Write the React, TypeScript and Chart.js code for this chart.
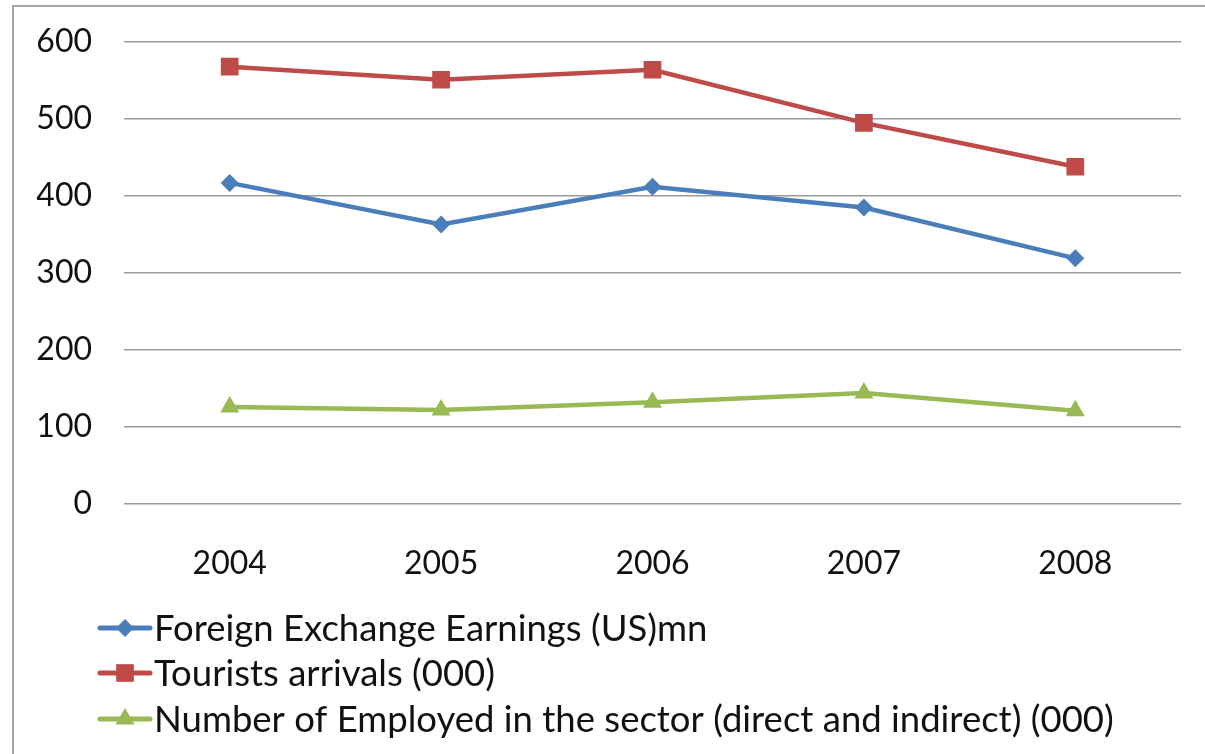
import React, { useEffect, useRef } from "react";
import { Chart, registerables } from "chart.js";

Chart.register(...registerables);

const years = ["2004", "2005", "2006", "2007", "2008"];
const foreignExchange = [417, 363, 412, 385, 319];
const touristArrivals = [568, 551, 564, 495, 438];
const employed = [126, 122, 132, 144, 121];
const yTicks = [0, 100, 200, 300, 400, 500, 600];

const FONT = "Lato, 'Open Sans', sans-serif";

const legendPlugin = {
  id: "stackedLegend",
  afterDraw(chart: any) {
    const ctx = chart.ctx;
    const rows = [628, 673, 719];
    ctx.save();
    chart.data.datasets.forEach((ds: any, i: number) => {
      const y = rows[i];
      ctx.strokeStyle = ds.borderColor;
      ctx.lineWidth = 5;
      ctx.lineCap = "round";
      ctx.beginPath();
      ctx.moveTo(100, y);
      ctx.lineTo(150, y);
      ctx.stroke();
      ctx.fillStyle = ds.borderColor;
      const r = ds.pointRadius;
      const cx = 125;
      ctx.beginPath();
      if (ds.pointStyle === "rectRot") {
        ctx.moveTo(cx, y - r);
        ctx.lineTo(cx + r, y);
        ctx.lineTo(cx, y + r);
        ctx.lineTo(cx - r, y);
      } else if (ds.pointStyle === "rect") {
        const s = r * Math.SQRT1_2;
        ctx.rect(cx - s, y - s, 2 * s, 2 * s);
      } else {
        ctx.moveTo(cx, y - r);
        ctx.lineTo(cx + r * 0.866, y + r / 2);
        ctx.lineTo(cx - r * 0.866, y + r / 2);
      }
      ctx.closePath();
      ctx.fill();
      ctx.fillStyle = "#111";
      ctx.font = `36.5px ${FONT}`;
      ctx.textBaseline = "middle";
      ctx.textAlign = "left";
      ctx.fillText(ds.label, 154, y + 1);
    });
    ctx.restore();
  },
};

export default function App() {
  const ref = useRef<HTMLCanvasElement>(null);
  useEffect(() => {
    if (!ref.current) return;
    const chart = new Chart(ref.current, {
      type: "line",
      data: {
        labels: years,
        datasets: [
          {
            label: "Foreign Exchange Earnings (US)mn",
            data: foreignExchange,
            borderColor: "#4a7ebb",
            backgroundColor: "#4a7ebb",
            borderWidth: 4.5,
            pointStyle: "rectRot",
            pointRadius: 9,
            pointBorderWidth: 0,
            tension: 0,
          },
          {
            label: "Tourists arrivals (000)",
            data: touristArrivals,
            borderColor: "#be4b48",
            backgroundColor: "#be4b48",
            borderWidth: 4.5,
            pointStyle: "rect",
            pointRadius: 12.5,
            pointBorderWidth: 0,
            tension: 0,
          },
          {
            label: "Number of Employed in the sector (direct and indirect) (000)",
            data: employed,
            borderColor: "#98b954",
            backgroundColor: "#98b954",
            borderWidth: 4.5,
            pointStyle: "triangle",
            pointRadius: 11,
            pointBorderWidth: 0,
            tension: 0,
          },
        ],
      },
      options: {
        responsive: false,
        animation: false,
        layout: { padding: { top: 42, right: 24, bottom: 170, left: 0 } },
        plugins: { legend: { display: false }, tooltip: { enabled: false } },
        scales: {
          x: {
            offset: true,
            grid: { display: false, drawTicks: false },
            border: { display: false },
            ticks: { color: "#111", font: { size: 32, family: FONT }, padding: 40 },
            afterFit: (s: any) => {
              s.height = 80;
              s.paddingLeft = 0;
              s.paddingRight = 0;
            },
          },
          y: {
            min: 0,
            max: 600,
            afterBuildTicks: (s: any) => {
              s.ticks = yTicks.map((v) => ({ value: v }));
            },
            grid: { color: "#9a9a9a", lineWidth: 1.6, drawTicks: false },
            border: { display: false },
            ticks: { color: "#111", font: { size: 32, family: FONT }, padding: 32 },
            afterFit: (s: any) => {
              s.width = 124;
              s.paddingTop = 0;
              s.paddingBottom = 0;
            },
          },
        },
      },
      plugins: [legendPlugin],
    } as any);
    return () => chart.destroy();
  }, []);
  return (
    <div style={{ position: "fixed", left: 0, top: 0, width: 1205, height: 754, background: "#fff" }}>
      <div
        style={{
          position: "absolute",
          left: 12,
          top: 5,
          width: 1200,
          height: 760,
          borderLeft: "2px solid #a6a6a6",
          borderTop: "2px solid #a6a6a6",
        }}
      />
      <canvas ref={ref} width={1205} height={754} style={{ position: "absolute", left: 0, top: 0 }} />
    </div>
  );
}
